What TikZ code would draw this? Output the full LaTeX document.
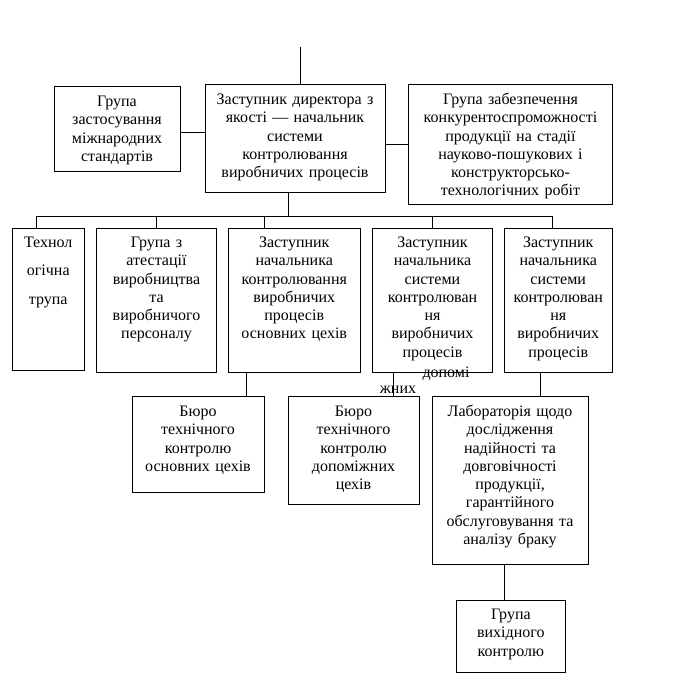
\documentclass[tikz,border=0pt]{standalone}
\usepackage{fontspec}
\setmainfont{Liberation Serif}
\begin{document}
\begin{tikzpicture}[
    x=1pt, y=-1pt,
    line width=0.8pt,
    every node/.style={font=\fontsize{16}{18.3}\selectfont},
    unit/.style={draw, inner sep=0pt, align=center, anchor=north, text height=20pt},
]

    \path[use as bounding box, fill=white] (0, 0) rectangle (673, 673);

    % top level
    \node[unit, text width=126pt, text depth=65pt] (grpstd) at (117, 86) {Група\\застосування\\міжнародних\\стандартів};
    \node[unit, text width=180pt, text depth=88pt] (deputy) at (295, 84) {Заступник директора з\\якості — начальник\\системи\\контролювання\\виробничих процесів};
    \node[unit, text width=204pt, text depth=100pt] (grpcomp) at (510.5, 84) {Група забезпечення\\конкурентоспроможності\\продукції на стадії\\науково-пошукових і\\конструкторсько-\\технологічних робіт};

    % second level
    \node[unit, text width=72.5pt, text depth=122.5pt, text height=19pt] (tech) at (48.25, 228) {Технол\\[10pt]огічна\\[10pt]трупа};
    \node[unit, text width=120pt, text depth=125pt, text height=19pt] (grpatt) at (156.5, 228) {Група з\\атестації\\виробництва\\та\\виробничого\\персоналу};
    \node[unit, text width=132.5pt, text depth=125pt, text height=19pt] (depmain) at (294.25, 228) {Заступник\\начальника\\контролювання\\виробничих\\процесів\\основних цехів};
    \node[unit, text width=120pt, text depth=125pt, text height=19pt] (depaux) at (432.5, 228) {Заступник\\начальника\\системи\\контролюван\\ня\\виробничих\\процесів};
    \node[unit, text width=108.5pt, text depth=125pt, text height=19pt] (depout) at (558.25, 228) {Заступник\\начальника\\системи\\контролюван\\ня\\виробничих\\процесів};

    % third level
    \node[unit, text width=132pt, text depth=76pt] (burmain) at (198, 396) {Бюро\\технічного\\контролю\\основних цехів};
    \node[unit, text width=131pt, text depth=88pt] (buraux) at (353.5, 396) {Бюро\\технічного\\контролю\\допоміжних\\цехів};
    \node[unit, text width=156pt, text depth=148pt] (lab) at (510, 396) {Лабораторія щодо\\дослідження\\надійності та\\довговічності\\продукції,\\гарантійного\\обслуговування та\\аналізу браку};
    \node[unit, text width=109.7pt, text depth=53pt, text height=19pt] (grpout) at (510.85, 600) {Група\\вихідного\\контролю};

    % loose word parts under the box
    \node[inner sep=0pt, anchor=base] (auxtaila) at (446, 377) {допомі};
    \node[inner sep=0pt, anchor=base] (auxtailb) at (398, 393.5) {жних};

    % connectors
    \coordinate (head) at (300, 47);
    \coordinate (bus) at (288, 216);
    \draw (head) -- (head |- deputy.north);
    \draw ([yshift=-3pt]grpstd.east) -- ([yshift=-3pt]grpstd.east -| deputy.west);
    \draw (grpcomp.west) -- (grpcomp.west -| deputy.east);
    \draw (bus |- deputy.south) -- (bus);
    \draw ([xshift=-11.75pt]tech.north) |- ([xshift=-6.25pt]depout.north |- bus) -- ([xshift=-6.25pt]depout.north);
    \foreach \n/\s in {grpatt/0, depmain/-30.25, depaux/0}
        \draw ([xshift=\s pt]\n.north) -- ([xshift=\s pt]\n.north |- bus);
    \draw ([xshift=-47.75pt]depmain.south) -- ([xshift=-47.75pt]depmain.south |- burmain.north);
    \draw ([xshift=-39pt]depaux.south) -- ([xshift=-39pt]depaux.south |- buraux.north);
    \draw ([xshift=-18.25pt]depout.south) -- ([xshift=-18.25pt]depout.south |- lab.north);
    \draw ([xshift=-5.7pt]lab.south) -- ([xshift=-5.7pt]lab.south |- grpout.north);

\end{tikzpicture}
\end{document}
